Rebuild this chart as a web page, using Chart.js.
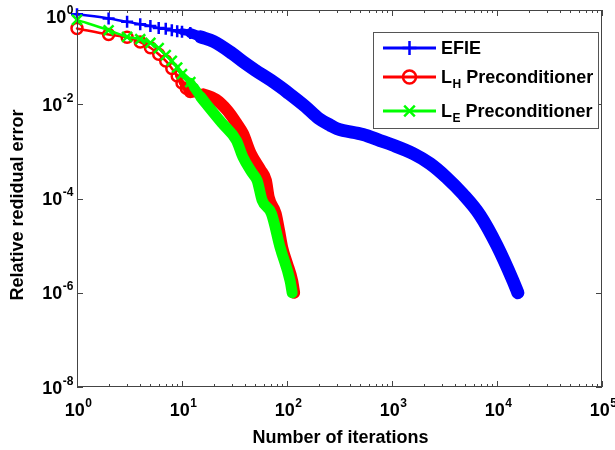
<!DOCTYPE html>
<html>
<head>
<meta charset="utf-8">
<script src="https://cdn.jsdelivr.net/npm/chart.js@4.4.1/dist/chart.umd.min.js"></script>
<style>
  html, body { margin: 0; padding: 0; background: #fff; }
  #wrap { width: 615px; height: 450px; }
</style>
</head>
<body>
<div id="wrap"><canvas id="chart" width="615" height="450"></canvas></div>
<script>
/* ---------- Data ---------- */
const efieIter = [1, 2, 3, 4, 5, 6, 7, 8, 9, 10, 12, 15, 20, 30, 40, 50, 70, 86, 100, 150, 200, 260, 300,
    530, 770, 1000, 1600, 2300, 3300, 4750, 6900, 10000, 14200, 15800];
const efieErr = [0.813, 0.661, 0.562, 0.501, 0.457, 0.417, 0.398, 0.372, 0.355, 0.347, 0.324, 0.269, 0.214,
    0.120, 0.0741, 0.0525, 0.0324, 0.0234, 0.0182, 0.00891, 0.00501, 0.00355, 0.00302, 0.00229, 0.00170,
    0.00138, 8.9e-4, 5.5e-4, 2.8e-4, 1.23e-4, 4.4e-5, 1.0e-5, 1.8e-6, 1.0e-6];

const lhIter = [1, 2, 3, 4, 5, 6, 7, 8, 9, 10, 11, 12, 16, 21, 27, 33, 38, 45, 56, 63, 67, 78, 84, 90, 100, 112, 117];
const lhErr = [0.407, 0.302, 0.263, 0.209, 0.158, 0.115, 0.0832, 0.0575, 0.0398, 0.0282, 0.0219, 0.0186,
    0.0162, 0.0126, 0.00741, 0.00398, 0.0024, 9.1e-4, 4.0e-4, 2.4e-4, 1.05e-4, 4.8e-5, 2.1e-5, 9.1e-6,
    4.2e-6, 1.8e-6, 1.0e-6];

const leIter = [1, 2, 3, 4, 5, 6, 7, 8, 9, 10, 12, 13, 15, 18, 24, 33, 38, 47, 52, 58, 71, 86, 107, 112];
const leErr = [0.617, 0.372, 0.269, 0.240, 0.200, 0.155, 0.110, 0.0832, 0.0603, 0.0437, 0.0295, 0.0229,
    0.0145, 0.0087, 0.00398, 0.0017, 7.6e-4, 3.4e-4, 2.4e-4, 9.1e-5, 4.8e-5, 9.1e-6, 1.8e-6, 1.0e-6];

const xTickPowers = [0, 1, 2, 3, 4, 5];
const yTickPowers = [0, -2, -4, -6, -8];

const FONT = '"Liberation Sans", Arial, sans-serif';
const AXIS_COLOR = "#444";
const MARK_MAX = 12;              // markers drawn one by one up to here
const BAND_FROM = 8, BAND_TO = 14; // where the piled-up markers turn into a solid band

/* ---------- Helpers ---------- */
function toPoints(xs, ys) {
    return xs.map((x, i) => ({ x: x, y: ys[i] }));
}

function bandWidth(x, band) {
    const f = (Math.log10(x) - Math.log10(BAND_FROM)) / (Math.log10(BAND_TO) - Math.log10(BAND_FROM));
    const k = Math.min(1, Math.max(0, f));
    return 2.5 + k * (band - 2.5);
}

function makeSeries(label, xs, ys, color, style, radius, band, order) {
    return {
        label: label,
        data: toPoints(xs, ys),
        borderColor: color,
        backgroundColor: "rgba(0,0,0,0)",
        borderWidth: 2.5,
        borderCapStyle: "round",
        borderJoinStyle: "round",
        cubicInterpolationMode: "monotone",
        pointStyle: style,
        pointRadius: ctx => (xs[ctx.dataIndex] <= MARK_MAX ? radius : 0),
        pointHoverRadius: 0,
        pointBorderColor: color,
        pointBorderWidth: 2.5,
        pointBackgroundColor: "rgba(0,0,0,0)",
        segment: {
            borderWidth: ctx => bandWidth(xs[ctx.p0DataIndex], band)
        },
        clip: false,
        order: order
    };
}

function isDecade(v) {
    const l = Math.log10(v);
    return Math.abs(l - Math.round(l)) < 1e-9;
}

function drawPow(ctx, exp, x, baseline, align) {
    ctx.font = "bold 18px " + FONT;
    const wb = ctx.measureText("10").width;
    ctx.font = "bold 12px " + FONT;
    const we = ctx.measureText(String(exp)).width;
    const start = align === "center" ? x - (wb + we) / 2 : x - wb - we;
    ctx.textAlign = "left";
    ctx.textBaseline = "alphabetic";
    ctx.font = "bold 18px " + FONT;
    ctx.fillText("10", start, baseline);
    ctx.font = "bold 12px " + FONT;
    ctx.fillText(String(exp), start + wb + 0.5, baseline - 9);
}

function drawMarker(ctx, style, x, y, r) {
    ctx.beginPath();
    if (style === "circle") {
        ctx.arc(x, y, r, 0, Math.PI * 2);
    } else if (style === "cross") {
        ctx.moveTo(x - r, y); ctx.lineTo(x + r, y);
        ctx.moveTo(x, y - r); ctx.lineTo(x, y + r);
    } else {
        const d = r * Math.SQRT1_2;
        ctx.moveTo(x - d, y - d); ctx.lineTo(x + d, y + d);
        ctx.moveTo(x - d, y + d); ctx.lineTo(x + d, y - d);
    }
    ctx.stroke();
}

/* ---------- Legend entries ---------- */
const legendItems = [
    { main: "EFIE", sub: "", rest: "", color: "#0000ff", marker: "cross", r: 7, y: 48 },
    { main: "L", sub: "H", rest: " Preconditioner", color: "#ff0000", marker: "circle", r: 6.5, y: 77 },
    { main: "L", sub: "E", rest: " Preconditioner", color: "#00ff00", marker: "crossRot", r: 7.5, y: 111 }
];

/* ---------- Axes frame, ticks, labels, legend ---------- */
const matlabFrame = {
    id: "matlabFrame",
    afterDatasetsDraw(chart) {
        const { ctx, chartArea: a, scales } = chart;
        const xs = scales.x, ys = scales.y;
        ctx.save();
        ctx.strokeStyle = AXIS_COLOR;
        ctx.lineWidth = 1;
        ctx.strokeRect(a.left + 0.5, a.top + 0.5, a.right - a.left - 1, a.bottom - a.top - 1);

        // x ticks, pointing inwards on bottom and top
        ctx.beginPath();
        xs.ticks.forEach(t => {
            const px = Math.round(xs.getPixelForValue(t.value)) + 0.5;
            const len = isDecade(t.value) ? 6 : 3;
            ctx.moveTo(px, a.bottom); ctx.lineTo(px, a.bottom - len);
            ctx.moveTo(px, a.top); ctx.lineTo(px, a.top + len);
        });
        // y ticks on left and right
        ys.ticks.forEach(t => {
            const py = Math.round(ys.getPixelForValue(t.value)) + 0.5;
            ctx.moveTo(a.left, py); ctx.lineTo(a.left + 6, py);
            ctx.moveTo(a.right, py); ctx.lineTo(a.right - 6, py);
        });
        ctx.stroke();

        // tick labels
        ctx.fillStyle = "#000";
        xTickPowers.forEach(p => {
            drawPow(ctx, p, xs.getPixelForValue(Math.pow(10, p)) + 1, 416, "center");
        });
        yTickPowers.forEach(p => {
            const py = Math.max(ys.getPixelForValue(Math.pow(10, p)), 16);
            drawPow(ctx, p, 73, py + 6.5, "right");
        });

        // axis titles
        ctx.font = "bold 18px " + FONT;
        ctx.textAlign = "center";
        ctx.textBaseline = "alphabetic";
        ctx.fillText("Number of iterations", (a.left + a.right) / 2 + 1, 443);
        ctx.save();
        ctx.translate(23, 205);
        ctx.rotate(-Math.PI / 2);
        ctx.fillText("Relative redidual error", 0, 0);
        ctx.restore();

        // legend
        ctx.fillStyle = "#fff";
        ctx.fillRect(373.5, 32.5, 225, 96);
        ctx.strokeStyle = "#555";
        ctx.strokeRect(373.5, 32.5, 225, 96);
        legendItems.forEach(it => {
            ctx.strokeStyle = it.color;
            ctx.lineWidth = 3;
            ctx.beginPath();
            ctx.moveTo(383, it.y); ctx.lineTo(436, it.y);
            ctx.stroke();
            ctx.lineWidth = 2.5;
            drawMarker(ctx, it.marker, 409.5, it.y, it.r);

            ctx.fillStyle = "#000";
            ctx.textAlign = "left";
            ctx.font = "bold 18px " + FONT;
            let tx = 441;
            ctx.fillText(it.main, tx, it.y + 6);
            tx += ctx.measureText(it.main).width;
            if (it.sub) {
                ctx.font = "bold 12px " + FONT;
                ctx.fillText(it.sub, tx + 0.5, it.y + 11);
                tx += ctx.measureText(it.sub).width + 0.5;
                ctx.font = "bold 18px " + FONT;
                ctx.fillText(it.rest, tx, it.y + 6);
            }
        });
        ctx.restore();
    }
};

/* ---------- Chart ---------- */
function init() {
    const ctx = document.getElementById("chart").getContext("2d");
    new Chart(ctx, {
        type: "line",
        data: {
            datasets: [
                makeSeries("EFIE", efieIter, efieErr, "#0000ff", "cross", 6, 13, 3),
                makeSeries("L_H Preconditioner", lhIter, lhErr, "#ff0000", "circle", 5.5, 12, 2),
                makeSeries("L_E Preconditioner", leIter, leErr, "#00ff00", "crossRot", 7, 11, 1)
            ]
        },
        plugins: [matlabFrame],
        options: {
            responsive: false,
            animation: false,
            devicePixelRatio: 1,
            layout: { padding: { top: 10, right: 13, left: 0, bottom: 0 } },
            plugins: {
                legend: { display: false },
                tooltip: { enabled: false }
            },
            events: [],
            scales: {
                x: {
                    type: "logarithmic",
                    min: 1,
                    max: 1e5,
                    grid: { display: false },
                    border: { display: false },
                    ticks: { display: false },
                    afterBuildTicks: s => {
                        const t = [];
                        xTickPowers.forEach(p => {
                            for (let m = 1; m <= 9; m++) {
                                const v = m * Math.pow(10, p);
                                if (v <= 1e5) t.push({ value: v });
                            }
                        });
                        s.ticks = t;
                    },
                    afterFit: s => { s.height = 63; }
                },
                y: {
                    type: "logarithmic",
                    min: 1e-8,
                    max: 1,
                    grid: { display: false },
                    border: { display: false },
                    ticks: { display: false },
                    afterBuildTicks: s => {
                        s.ticks = yTickPowers.map(p => ({ value: Math.pow(10, p) }));
                    },
                    afterFit: s => { s.width = 77; }
                }
            }
        }
    });
}

document.addEventListener("DOMContentLoaded", init);
</script>
</body>
</html>
